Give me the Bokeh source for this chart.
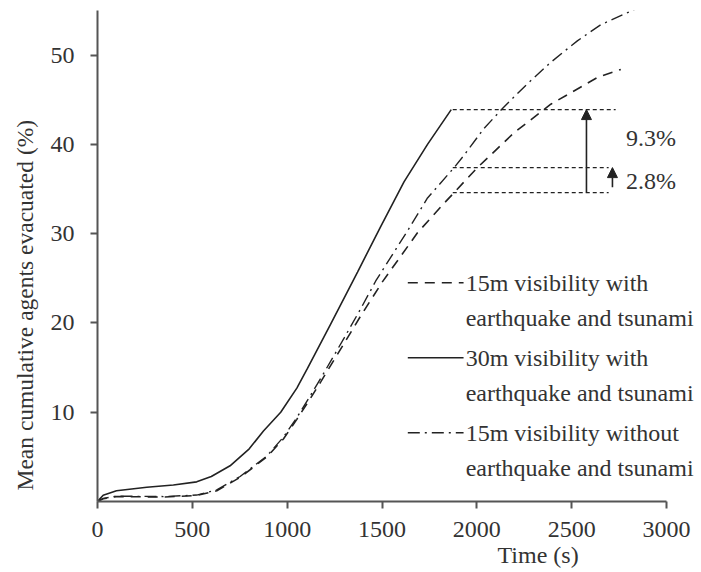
import numpy as np
from bokeh.plotting import figure
from bokeh.models import Range1d, FixedTicker, Arrow, NormalHead, Title
from bokeh.embed import file_html
from bokeh.resources import INLINE
from bokeh.core.properties import value

# ---- data ----
T_30M = [0, 30, 100, 260, 400, 523, 600, 699, 800, 875, 966, 1051, 1107, 1230, 1371, 1493, 1616, 1740, 1865]
V_30M = [0, 0.7, 1.2, 1.6, 1.85, 2.2, 2.8, 4.0, 5.9, 7.9, 10.0, 12.7, 14.9, 19.9, 25.7, 30.8, 35.8, 40.0, 43.9]

T_15M = [0, 30, 100, 350, 523, 629, 752, 893, 980, 1051, 1121, 1177, 1300, 1388, 1502, 1687, 1827, 1880, 2003, 2196, 2390, 2636, 2759]
V_15M = [0, 0.3, 0.55, 0.5, 0.67, 1.2, 2.7, 5.0, 7.0, 9.2, 11.5, 13.4, 17.7, 20.8, 24.6, 30.1, 33.4, 34.6, 37.4, 41.3, 44.5, 47.5, 48.4]

T_15M_NO = [0, 30, 100, 350, 523, 629, 752, 893, 980, 1051, 1121, 1177, 1300, 1388, 1467, 1634, 1740, 1880, 1933, 2038, 2143, 2267, 2390, 2530, 2653, 2830]
V_15M_NO = [0, 0.35, 0.6, 0.55, 0.72, 1.3, 2.8, 5.1, 7.2, 9.4, 11.8, 13.8, 18.3, 21.6, 24.7, 30.3, 34.0, 37.4, 38.8, 41.8, 44.2, 46.8, 49.2, 51.6, 53.4, 55.1]

X_TICKS = [0, 500, 1000, 1500, 2000, 2500, 3000]
Y_TICKS = [10, 20, 30, 40, 50]
X_AXIS_END = 3000
Y_AXIS_END = 55

# reference levels (bottom, middle, top) and their extents
REF_LEVELS = [34.6, 37.4, 43.9]
REF_X0 = [1873, 1873, 1873]
REF_X1 = [2695, 2695, 2732]

# gap arrows
GAP_X = [2578, 2715]
GAP_Y0 = [34.6, 35.2]
GAP_Y1 = [43.9, 37.4]
GAP_TEXT = ["9.3%", "2.8%"]
GAP_TEXT_X = [2786, 2786]
GAP_TEXT_Y = [40.7, 35.9]

LEGEND_LINE1 = ["15m visibility with", "30m visibility with", "15m visibility without"]
LEGEND_LINE2 = ["earthquake and tsunami", "earthquake and tsunami", "earthquake and tsunami"]
LEGEND_Y1 = [24.5, 16.1, 7.7]
LEGEND_Y2 = [20.6, 12.2, 3.8]
LEGEND_DASH = ["10 7", "solid", "12 5 2 5"]

FONT = "Liberation Serif"
TXT = "#333333"
INK = "#222222"
AX = "#555555"

W, H = 701, 572
LEFT, TOP, BOTTOM = 97, 10, 71
# frame reaches the right edge so texts there are not clipped; axis line stops at 3000
x_end = X_AXIS_END * (W - LEFT) / (666 - LEFT)

p = figure(width=W, height=H, output_backend="svg", toolbar_location=None,
           x_range=Range1d(0, x_end), y_range=Range1d(0, Y_AXIS_END),
           min_border_left=LEFT, min_border_right=0, min_border_top=TOP, min_border_bottom=BOTTOM)
p.outline_line_color = None
p.grid.visible = False
p.background_fill_color = "white"
p.border_fill_color = "white"

for ax in (p.xaxis[0], p.yaxis[0]):
    ax.axis_line_color = AX
    ax.axis_line_width = 2
    ax.major_tick_line_color = AX
    ax.major_tick_line_width = 2
    ax.major_tick_out = 7
    ax.major_tick_in = 0
    ax.minor_tick_out = 0
    ax.minor_tick_in = 0
    ax.major_label_text_font = FONT
    ax.major_label_text_font_size = "24px"
    ax.major_label_text_color = TXT
    ax.axis_label = None
p.xaxis.ticker = FixedTicker(ticks=X_TICKS)
p.yaxis.ticker = FixedTicker(ticks=Y_TICKS)
p.xaxis.bounds = (0, X_AXIS_END)
p.xaxis.major_label_standoff = 13
p.yaxis.major_label_standoff = 16

# axis titles
p.add_layout(Title(text="Time (s)", align="left", offset=400, standoff=0,
                   text_font=FONT, text_font_size="24px", text_font_style="normal",
                   text_color=TXT), "below")
p.add_layout(Title(text="Mean cumulative agents evacuated  (%)", align="left", offset=11,
                   vertical_align="middle", standoff=18, text_font=FONT,
                   text_font_size="23.5px", text_font_style="normal", text_color=TXT), "left")

# curves
p.line(T_15M, V_15M, line_color=INK, line_width=1.6, line_dash="10 7")
p.line(T_30M, V_30M, line_color=INK, line_width=1.6)
p.line(T_15M_NO, V_15M_NO, line_color=INK, line_width=1.4, line_dash="12 5 2 5")

# reference lines
p.segment(x0=REF_X0, y0=REF_LEVELS, x1=REF_X1, y1=REF_LEVELS,
          line_color=INK, line_width=1.2, line_dash="4 3")

for x, y0, y1 in zip(GAP_X, GAP_Y0, GAP_Y1):
    p.add_layout(Arrow(x_start=x, y_start=y0, x_end=x, y_end=y1,
                       line_color=INK, line_width=1.6,
                       end=NormalHead(size=10, fill_color=INK, line_color=INK, line_width=1)))

p.text(x=GAP_TEXT_X, y=GAP_TEXT_Y, text=GAP_TEXT, text_font=value(FONT),
       text_font_size=value("24px"), text_color=TXT, text_align="left", text_baseline="middle")

# legend (drawn inside the plot)
LEG_X0, LEG_X1, LEG_TX = 1636, 1930, 1941
for dash, y in zip(LEGEND_DASH, LEGEND_Y1):
    p.line([LEG_X0, LEG_X1], [y, y], line_color=INK, line_width=1.6, line_dash=dash)
p.text(x=[LEG_TX] * 3, y=LEGEND_Y1, text=LEGEND_LINE1, text_font=value(FONT),
       text_font_size=value("24px"), text_color=TXT, text_align="left", text_baseline="middle")
p.text(x=[LEG_TX] * 3, y=LEGEND_Y2, text=LEGEND_LINE2, text_font=value(FONT),
       text_font_size=value("24px"), text_color=TXT, text_align="left", text_baseline="middle")

open("out.html", "w").write(file_html(p, INLINE))
